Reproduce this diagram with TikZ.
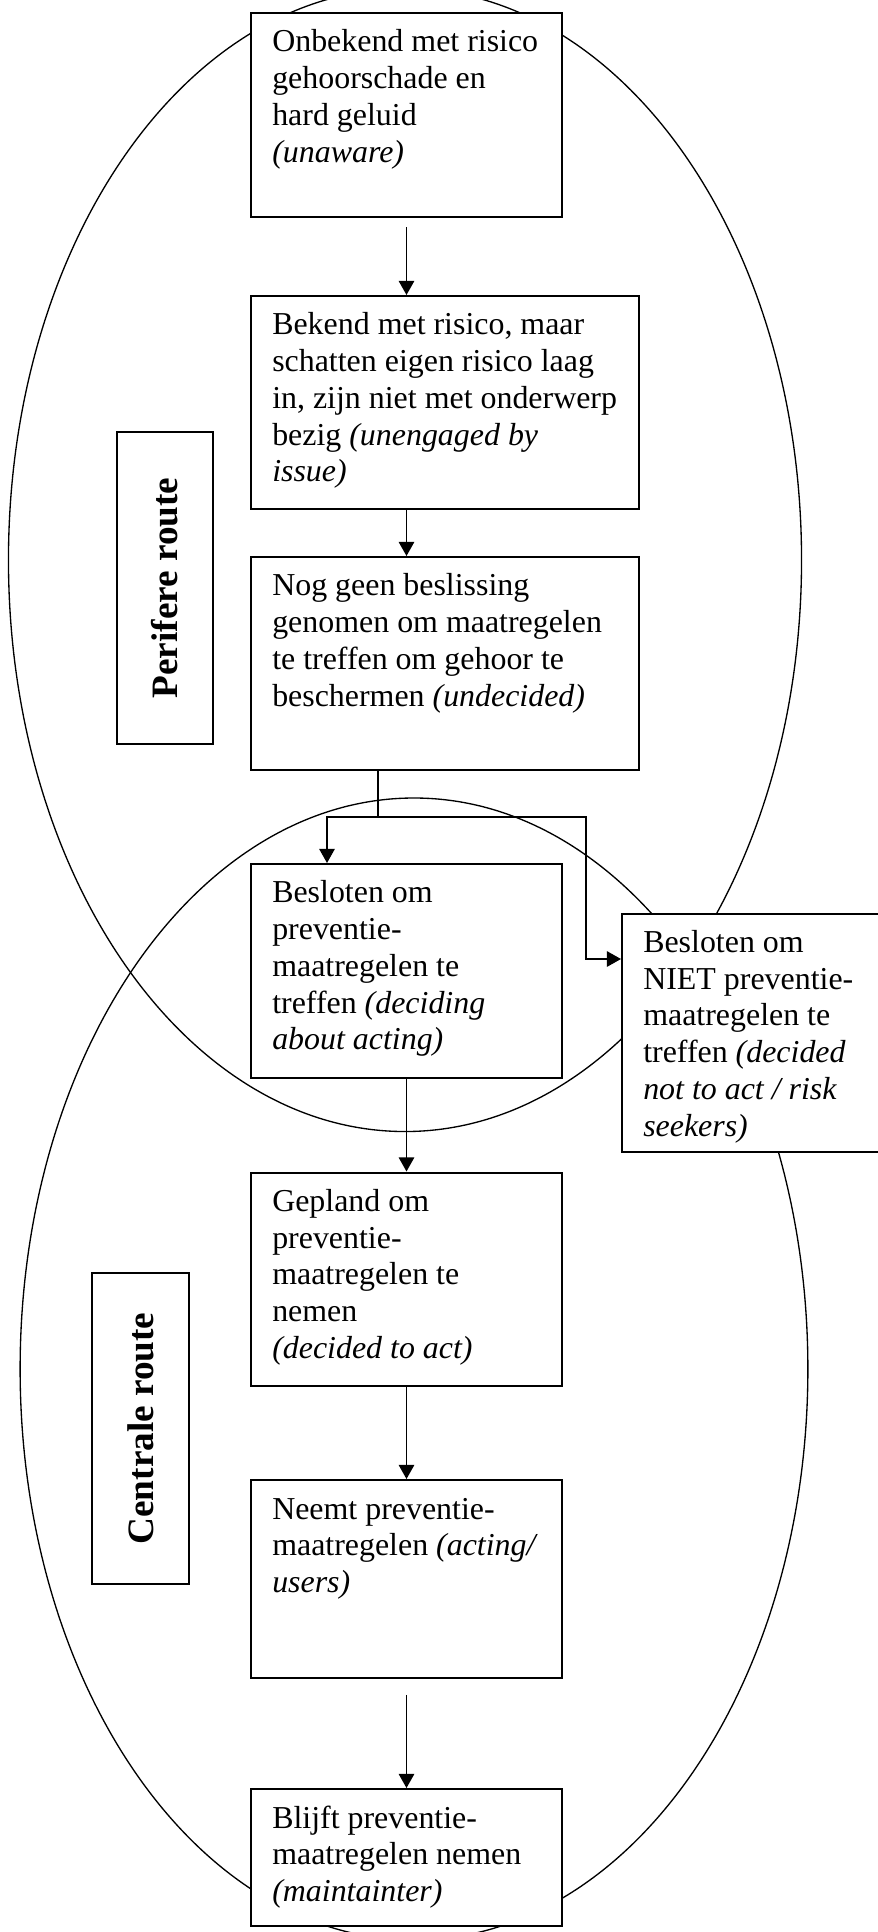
\documentclass[tikz,border=0pt]{standalone}
\usepackage{fontspec}
\setmainfont{Liberation Serif}
\usetikzlibrary{arrows.meta}

% one drawing unit (a "px") and the inner margins of the stage boxes
\newdimen\pxu \pxu=0.376pt
\newdimen\padx \padx=8pt
\newdimen\pady \pady=5pt

% \stage{name}{north-west corner}{width}{height}{text}
\newcommand\stage[5]{%
  \node[stagebox] (#1) at #2
    {\parbox[t][\dimexpr #4\pxu-2\pady\relax][t]{\dimexpr #3\pxu-2\padx\relax}{\raggedright\strut #5}};}

\tikzset{
  stagebox/.style={draw, fill=white, line width=0.75pt, anchor=north west,
    inner xsep=\padx, inner ysep=\pady, font=\fontsize{12}{13.8}\selectfont},
  routebox/.style={draw, fill=white, line width=0.75pt, rotate=90, inner sep=0pt,
    font=\fontsize{14}{16}\selectfont\bfseries},
  outline/.style={line width=0.5pt},
  link/.style={line width=0.6pt},
  arrow/.style={link, -{Triangle[length=5.3pt,width=5.8pt]}},
}

\begin{document}
\begin{tikzpicture}[x=0.376pt, y=-0.376pt]
  \fill[white] (0,0) rectangle (877,1932);
  \useasboundingbox (0,0) rectangle (877,1932);

  % the two routes
  \draw[outline] (405,560) ellipse [x radius=149.1pt, y radius=214.9pt];
  \draw[outline] (414,1369) ellipse [x radius=148.1pt, y radius=214.7pt];

  \node[routebox, minimum width=312*0.376pt, minimum height=96*0.376pt]
    (peri) at (165,588) {Perifere route};
  \node[routebox, minimum width=311*0.376pt, minimum height=97*0.376pt]
    (cent) at (140.5,1428.5) {Centrale route};

  % stages
  \stage{unaware}{(250,12)}{311}{204}{Onbekend met risico\\gehoorschade en\\hard geluid\\\textit{(unaware)}}
  \stage{unengaged}{(250,295)}{388}{213}{Bekend met risico, maar\\schatten eigen risico laag\\in, zijn niet met onderwerp\\bezig \textit{(unengaged by}\\\textit{issue)}}
  \stage{undecided}{(250,556)}{388}{213}{Nog geen beslissing\\genomen om maatregelen\\te treffen om gehoor te\\beschermen \textit{(undecided)}}
  \stage{deciding}{(250,863)}{311}{214}{Besloten om\\preventie-\\maatregelen te\\treffen \textit{(deciding}\\\textit{about acting)}}
  \stage{niet}{(621,912.5)}{270}{238}{Besloten om\\NIET preventie-\\maatregelen te\\treffen \textit{(decided}\\\textit{not to act / risk}\\\textit{seekers)}}
  \stage{decided}{(250,1171.5)}{311}{213}{Gepland om\\preventie-\\maatregelen te\\nemen\\\textit{(decided to act)}}
  \stage{acting}{(250,1479)}{311}{198}{Neemt preventie-\\maatregelen \textit{(acting/}\\\textit{users)}}
  \stage{maintainer}{(250,1788)}{311}{137}{Blijft preventie-\\maatregelen nemen\\\textit{(maintainter)}}

  % connectors
  \draw[arrow, shorten <=3.4pt] (unaware.south) -- (unaware.south |- unengaged.north);
  \draw[arrow] (unaware.south |- unengaged.south) -- (unaware.south |- undecided.north);

  \coordinate (split) at (378,817);
  \coordinate (forkL) at (327,817);
  \coordinate (forkR) at (586,817);
  \coordinate (nietin) at (586,959);
  \draw[link] (split |- undecided.south) -- (split);
  \draw[arrow] (split) -- (forkL) -- (forkL |- deciding.north);
  \draw[arrow] (split) -- (forkR) -- (nietin) -- (nietin -| niet.west);

  \draw[arrow] (deciding.south) -- (decided.north);
  \draw[arrow] (decided.south) -- (acting.north);
  \draw[arrow, shorten <=6pt] (acting.south) -- (maintainer.north);
\end{tikzpicture}
\end{document}
